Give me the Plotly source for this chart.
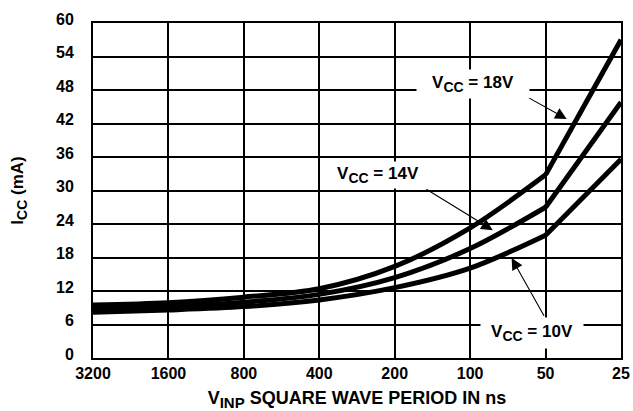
import plotly.graph_objects as go

periods = ["3200", "1600", "800", "400", "200", "100", "50", "25"]
icc_18v = [9.5, 9.9, 10.9, 12.4, 16.4, 23.3, 32.8, 57.0]
icc_14v = [8.9, 9.3, 10.0, 11.4, 14.4, 19.6, 27.0, 45.8]
icc_10v = [8.2, 8.6, 9.2, 10.4, 12.6, 16.1, 22.0, 35.6]
y_ticks = [0, 6, 12, 18, 24, 30, 36, 42, 48, 54, 60]

xpos = list(range(len(periods)))
FONT = "Liberation Sans, Arial, Helvetica, sans-serif"

def sub(s, size=14):
    return f'<sub><span style="font-size:{size}px">{s}</span></sub>'

fig = go.Figure()
for ys in (icc_18v, icc_14v, icc_10v):
    fig.add_trace(go.Scatter(x=xpos[:7], y=ys[:7], mode="lines",
                             line=dict(color="black", width=5, shape="spline", smoothing=0.9),
                             showlegend=False, hoverinfo="skip"))
    fig.add_trace(go.Scatter(x=xpos[6:], y=ys[6:], mode="lines",
                             line=dict(color="black", width=5),
                             showlegend=False, hoverinfo="skip"))

labels = [
    dict(text=f"<b>V{sub('CC')} = 18V</b>", x=5.04, y=49.1, w=110, h=26),
    dict(text=f"<b>V{sub('CC')} = 14V</b>", x=3.78, y=32.8, w=98, h=24),
    dict(text=f"<b>V{sub('CC')} = 10V</b>", x=5.82, y=4.5, w=100, h=28),
]
arrows = [
    dict(ax=5.71, ay=47.1, x=6.28, y=42.8),
    dict(ax=4.40, ay=30.4, x=5.30, y=22.9),
    dict(ax=5.99, ay=7.3, x=5.55, y=17.9),
]
ann = []
for a in arrows:
    ann.append(dict(text="", x=a["x"], y=a["y"], ax=a["ax"], ay=a["ay"],
                    xref="x", yref="y", axref="x", ayref="y",
                    showarrow=True, arrowhead=2, arrowsize=2.1, arrowwidth=1.1,
                    arrowcolor="black", standoff=0, startstandoff=0))
for l in labels:
    ann.append(dict(text=l["text"], x=l["x"], y=l["y"], xref="x", yref="y",
                    showarrow=False, bgcolor="white", width=l["w"], height=l["h"],
                    font=dict(family=FONT, size=17, color="black"),
                    xanchor="center", yanchor="middle"))

fig.update_layout(
    width=633, height=411,
    margin=dict(l=93, r=12, t=23, b=53, autoexpand=False),
    paper_bgcolor="white", plot_bgcolor="white",
    font=dict(family=FONT, size=16, color="black"),
    annotations=ann,
)
fig.update_xaxes(
    range=[0, 7], tickvals=xpos, ticktext=[f"<b>{p}</b>" for p in periods],
    tickfont=dict(family=FONT, size=16),
    showgrid=True, gridcolor="black", gridwidth=2,
    showline=True, linecolor="black", linewidth=2, mirror=True,
    zeroline=False, ticks="", ticklabelstandoff=0, automargin=False,
    title=dict(text=f"<b>V{sub('INP', 15)} SQUARE WAVE PERIOD IN ns</b>", standoff=10,
               font=dict(family=FONT, size=18)),
)
fig.update_yaxes(
    range=[0, 60], tickvals=y_ticks, ticktext=[f"<b>{v}</b>" for v in y_ticks],
    tickfont=dict(family=FONT, size=16),
    showgrid=True, gridcolor="black", gridwidth=2,
    showline=True, linecolor="black", linewidth=2, mirror=True,
    zeroline=False, ticks="", ticklabelstandoff=14, ticklabelshift=-4, automargin=False,
    title=dict(text=f"<b>I{sub('CC')} (mA)</b>", standoff=28,
               font=dict(family=FONT, size=17)),
)

fig.write_html("out.html", config={"displayModeBar": False},
               post_script="document.body.style.margin='0';document.body.style.padding='0';")
